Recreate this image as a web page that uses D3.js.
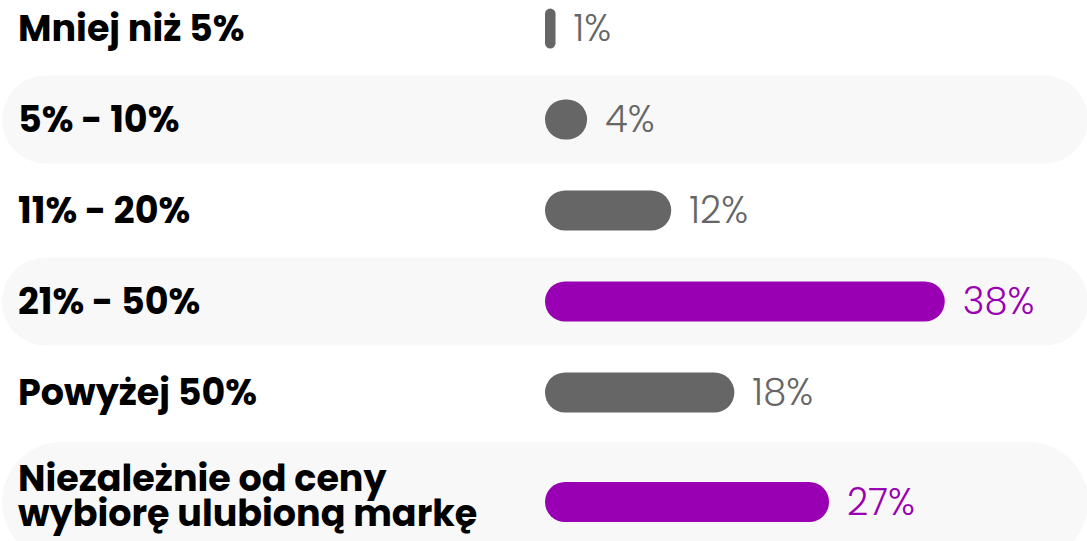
<!DOCTYPE html>
<html>
<head>
<meta charset="utf-8">
<script src="https://cdn.jsdelivr.net/npm/d3@7"></script>
<style>
  html, body { margin: 0; padding: 0; background: #ffffff; }
  svg { display: block; }
</style>
</head>
<body>
<svg id="chart" width="1087" height="541"></svg>
<script>
// Answer categories (label lines) and share of respondents, in percent
const categories = [
  ["Mniej niż 5%"],
  ["5% - 10%"],
  ["11% - 20%"],
  ["21% - 50%"],
  ["Powyżej 50%"],
  ["Niezależnie od ceny", "wybiorę ulubioną markę"]
];
const values = [1, 4, 12, 38, 18, 27];
const highlighted = [false, false, false, true, false, true];
const valueLabels = values.map(v => v + "%");

const W = 1087, H = 541;
const svg = d3.select("#chart");

const GRAY = "#666666", PURPLE = "#9900b3", BAND = "#f8f8f8";
const labelFont = "'Poppins', 'Inter', 'Noto Sans', sans-serif";

// Row layout: one band per category, the two-line row is taller
const rowHeights = categories.map(c => c.length > 1 ? 128 : 91);
const rowTops = [];
rowHeights.reduce((acc, h, i) => { rowTops[i] = acc; return acc + h; }, -17);
const rowCenter = i => rowTops[i] + rowHeights[i] / 2;

const x = d3.scaleLinear().domain([0, 100]).range([545, 545 + 1052]);
const barH = 40;

const rows = svg.selectAll("g.row")
  .data(values.map((v, i) => ({ v, i, lines: categories[i], hi: highlighted[i], text: valueLabels[i] })))
  .join("g").attr("class", "row");

// alternating light background bands
rows.filter(d => d.i % 2 === 1).append("rect")
  .attr("x", 2)
  .attr("width", W + 1 - 2)
  .attr("y", d => rowCenter(d.i) - (d.lines.length > 1 ? 60 : 44))
  .attr("height", d => d.lines.length > 1 ? 120 : 88)
  .attr("rx", d => d.lines.length > 1 ? 60 : 44)
  .attr("fill", BAND);

// category labels
rows.append("text")
  .attr("x", 18)
  .attr("font-family", labelFont)
  .attr("font-weight", 700)
  .attr("font-size", 36.5)
  .attr("fill", "#000")
  .each(function (d) {
    const n = d.lines.length, lh = 35;
    const lift = n > 1 ? 6 : 0;
    d3.select(this).selectAll("tspan").data(d.lines).join("tspan")
      .attr("x", 18)
      .attr("y", (l, k) => rowCenter(d.i) + (k - (n - 1) / 2) * lh - lift)
      .attr("dy", "0.35em")
      .text(l => l);
  });

// bars with fully rounded ends
rows.append("rect")
  .attr("x", x(0))
  .attr("y", d => rowCenter(d.i) - barH / 2)
  .attr("width", d => x(d.v) - x(0))
  .attr("height", barH)
  .attr("rx", d => Math.min(barH / 2, (x(d.v) - x(0)) / 2))
  .attr("fill", d => d.hi ? PURPLE : GRAY);

// value labels
rows.append("text")
  .attr("x", d => x(d.v) + 18)
  .attr("y", d => rowCenter(d.i))
  .attr("dy", "0.35em")
  .attr("font-family", labelFont)
  .attr("font-weight", 300)
  .attr("font-size", 37)
  .attr("fill", d => d.hi ? PURPLE : GRAY)
  .text(d => d.text);
</script>
</body>
</html>
